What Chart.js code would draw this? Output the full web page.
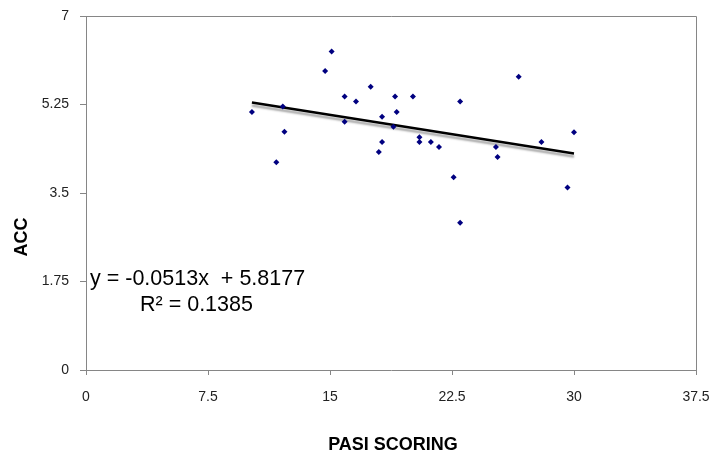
<!DOCTYPE html>
<html>
<head>
<meta charset="utf-8">
<script src="https://cdn.jsdelivr.net/npm/chart.js"></script>
<style>
  body { margin: 0; background: #fff; }
  #wrap { width: 710px; height: 454px; }
</style>
</head>
<body>
<div id="wrap"><canvas id="chart" width="710" height="454"></canvas></div>
<script>
// data
const pasi = [10.2, 12.1, 12.2, 11.7, 14.7, 15.1, 15.9, 16.6, 15.9, 17.5,
              19.0, 20.1, 19.1, 18.2, 18.9, 18.2, 18.0, 20.5, 20.5, 21.2,
              21.7, 23.0, 22.6, 23.0, 26.6, 25.2, 25.3, 28.0, 30.0, 29.6];
const acc  = [5.10, 5.21, 4.71, 4.11, 5.91, 6.30, 5.41, 5.31, 4.91, 5.60,
              5.41, 5.41, 5.10, 5.01, 4.81, 4.51, 4.31, 4.60, 4.51, 4.51,
              4.41, 5.31, 3.81, 2.91, 5.80, 4.41, 4.21, 4.51, 4.70, 3.61];
const trendX = [10.2, 30.0];
const trendY = [5.29, 4.28];
const xTicks = [0, 7.5, 15, 22.5, 30, 37.5];
const yTicks = [0, 1.75, 3.5, 5.25, 7];
const eqLine1 = 'y = -0.0513x  + 5.8177';
const eqLine2 = 'R\u00B2 = 0.1385';

const axisGray = '#868686';

const extras = {
  id: 'extras',
  beforeDatasetDraw(chart, args) {
    if (args.index === 1) {
      const ctx = chart.ctx;
      ctx.save();
      ctx.shadowColor = 'rgba(0,0,0,0.35)';
      ctx.shadowOffsetY = 3;
      ctx.shadowOffsetX = 0;
      ctx.shadowBlur = 2;
    }
  },
  afterDatasetDraw(chart, args) {
    if (args.index === 1) chart.ctx.restore();
  },
  afterDraw(chart) {
    const ctx = chart.ctx;
    const a = chart.chartArea;
    ctx.save();
    ctx.strokeStyle = axisGray;
    ctx.lineWidth = 1;
    ctx.beginPath();
    ctx.moveTo(a.left, a.top + 0.5);
    ctx.lineTo(a.right + 0.5, a.top + 0.5);
    ctx.lineTo(a.right + 0.5, a.bottom);
    ctx.stroke();

    ctx.fillStyle = '#000';
    ctx.font = 'bold 18px "Liberation Sans", Arial, sans-serif';
    ctx.textAlign = 'center';
    ctx.textBaseline = 'middle';
    ctx.fillText('PASI SCORING', (a.left + a.right) / 2 + 2, 445);
    ctx.translate(22, 237);
    ctx.rotate(-Math.PI / 2);
    ctx.fillText('ACC', 0, 0);
    ctx.restore();

    ctx.save();
    ctx.fillStyle = '#000';
    ctx.font = '21.5px "Liberation Sans", Arial, sans-serif';
    ctx.textAlign = 'left';
    ctx.textBaseline = 'alphabetic';
    ctx.fillText(eqLine1, 90, 285);
    ctx.fillText(eqLine2, 140, 311);
    ctx.restore();
  }
};

new Chart(document.getElementById('chart'), {
  type: 'scatter',
  data: {
    datasets: [{
      data: pasi.map((x, i) => ({ x: x, y: acc[i] })),
      pointStyle: 'rectRot',
      pointRadius: 3,
      backgroundColor: '#000080',
      borderColor: '#000080',
      borderWidth: 0
    }, {
      type: 'line',
      data: trendX.map((x, i) => ({ x: x, y: trendY[i] })),
      borderColor: '#000',
      borderWidth: 2.5,
      pointRadius: 0,
      fill: false
    }]
  },
  options: {
    responsive: false,
    animation: false,
    layout: { padding: { top: 16, right: 14, left: 0, bottom: 0 } },
    plugins: {
      legend: { display: false },
      tooltip: { enabled: false },
      title: { display: false }
    },
    scales: {
      x: {
        type: 'linear',
        min: 0,
        max: 37.5,
        afterBuildTicks: s => { s.ticks = xTicks.map(v => ({ value: v })); },
        afterFit: s => { s.height = 84; s.paddingLeft = 0; s.paddingRight = 0; },
        grid: { drawOnChartArea: false, drawTicks: true, tickLength: 5, color: axisGray },
        border: { color: axisGray, width: 1 },
        ticks: {
          padding: 14,
          maxRotation: 0,
          color: '#222',
          font: { family: '"Liberation Sans", Arial, sans-serif', size: 14 },
          callback: v => String(v)
        }
      },
      y: {
        type: 'linear',
        min: 0,
        max: 7,
        afterBuildTicks: s => { s.ticks = yTicks.map(v => ({ value: v })); },
        afterFit: s => { s.width = 86; s.paddingTop = 0; s.paddingBottom = 0; },
        grid: { drawOnChartArea: false, drawTicks: true, tickLength: 6, color: axisGray },
        border: { color: axisGray, width: 1 },
        ticks: {
          padding: 11,
          color: '#222',
          font: { family: '"Liberation Sans", Arial, sans-serif', size: 14 },
          callback: v => String(v)
        }
      }
    }
  },
  plugins: [extras]
});
</script>
</body>
</html>
